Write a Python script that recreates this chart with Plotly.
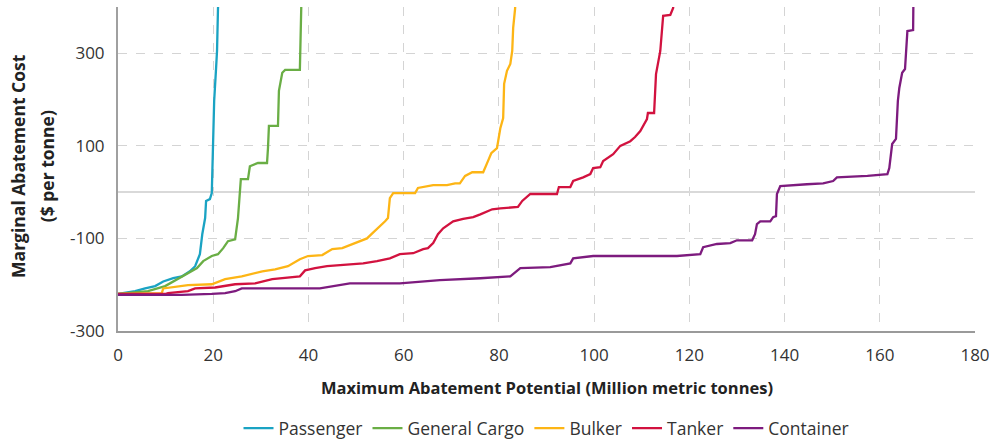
import plotly.graph_objects as go

# ---- data ----
passenger_x = [0, 3.6, 5.7, 7.8, 9.5, 11.6, 13.4, 15.1, 16.2, 17.2, 17.7, 18.3, 18.5, 19.3, 19.7, 20.0, 20.2, 20.6, 20.8, 21.0, 21.2]
passenger_y = [-220, -214, -208, -203, -193, -186, -182, -171, -160, -134, -91, -56, -19, -15, -2, 89, 197, 268, 305, 396, 450]

cargo_x = [0, 6.3, 9.9, 12.4, 14.5, 16.6, 17.9, 19.7, 21.0, 22.1, 23.1, 24.6, 25.2, 25.6, 25.8, 27.3, 27.7, 29.4, 31.3, 31.5, 31.7, 33.6, 33.8, 34.5, 35.1, 38.2, 38.4, 38.5, 38.6]
cargo_y = [-220, -214, -203, -188, -177, -164, -149, -138, -134, -121, -106, -102, -56, -4, 28, 28, 56, 63, 63, 95, 143, 143, 219, 258, 264, 264, 342, 396, 450]

bulker_x = [0, 9.2, 9.5, 14.7, 19.7, 22.5, 26.0, 30.3, 33.0, 35.7, 38.2, 39.9, 42.9, 45.0, 47.1, 49.4, 50.8, 52.3, 53.4, 54.6, 56.1, 56.7, 57.1, 57.8, 62.4, 63.0, 66.2, 69.1, 70.8, 71.8, 72.9, 74.4, 76.7, 77.7, 78.4, 79.6, 80.3, 80.9, 81.1, 81.7, 82.4, 82.8, 83.0, 83.4, 83.6]
bulker_y = [-220, -218, -208, -201, -199, -188, -182, -171, -167, -160, -145, -138, -136, -123, -121, -112, -106, -100, -89, -78, -63, -56, -13, -2, -2, 9, 15, 15, 19, 19, 35, 43, 43, 67, 84, 95, 138, 160, 234, 262, 277, 305, 355, 396, 450]

tanker_x = [0, 9.9, 10.5, 14.7, 16.2, 20.4, 24.6, 28.8, 32.4, 35.7, 38.2, 39.3, 41.4, 43.9, 48.7, 51.5, 54.4, 57.1, 59.2, 62.0, 64.1, 65.1, 66.2, 67.2, 68.3, 70.4, 72.5, 74.6, 76.1, 78.6, 80.3, 84.0, 84.9, 86.6, 92.2, 92.6, 95.0, 95.6, 97.7, 99.2, 99.8, 101.3, 101.9, 104.0, 105.5, 107.6, 108.6, 109.7, 111.1, 111.3, 112.6, 113.0, 113.9, 114.5, 116.0, 116.6, 116.9]
tanker_y = [-220, -220, -218, -214, -208, -206, -199, -197, -188, -184, -182, -169, -164, -160, -156, -154, -149, -143, -134, -132, -123, -121, -110, -91, -78, -63, -58, -54, -48, -37, -35, -32, -19, -4, -4, 11, 11, 24, 32, 39, 52, 54, 67, 82, 100, 110, 119, 132, 158, 171, 171, 255, 305, 381, 383, 398, 450]

container_x = [0, 13.4, 19.7, 22.5, 24.6, 26.0, 42.4, 45.2, 48.7, 59.2, 67.6, 76.1, 80.3, 82.4, 84.5, 90.8, 95.0, 95.6, 99.8, 117.4, 122.3, 122.9, 125.8, 128.6, 130.0, 133.2, 133.8, 134.2, 134.9, 137.0, 137.6, 138.2, 138.4, 139.1, 144.7, 148.1, 150.2, 151.0, 157.4, 160.7, 161.6, 162.0, 162.6, 163.4, 163.8, 164.1, 164.7, 165.3, 165.8, 167.0, 167.0, 167.1]
container_y = [-222, -222, -220, -218, -214, -208, -208, -203, -197, -197, -190, -186, -184, -182, -164, -162, -154, -143, -138, -138, -134, -119, -112, -110, -104, -104, -91, -69, -63, -63, -54, -52, -4, 13, 17, 19, 24, 32, 35, 37, 39, 52, 104, 115, 197, 225, 258, 266, 348, 350, 396, 450]

series_names = ["Passenger", "General Cargo", "Bulker", "Tanker", "Container"]
series_x = [passenger_x, cargo_x, bulker_x, tanker_x, container_x]
series_y = [passenger_y, cargo_y, bulker_y, tanker_y, container_y]
colors = ["#1AA3C3", "#6AAE45", "#FDB515", "#D2123F", "#7D1B7E"]

x_ticks = [0, 20, 40, 60, 80, 100, 120, 140, 160, 180]
y_ticks = [-300, -100, 100, 300, 400]
y_ticktext = ["-300", "-100", "100", "300", ""]

x_title = "<b>Maximum Abatement Potential (Million metric tonnes)</b>"
y_title_line1 = "<b>Marginal Abatement Cost</b>"
y_title_line2 = "<b>($ per tonne)</b>"

FONT = "Open Sans"

fig = go.Figure()
for name, xs, ys, c in zip(series_names, series_x, series_y, colors):
    fig.add_trace(go.Scatter(x=xs, y=ys, mode="lines", name=name,
                             line=dict(color=c, width=2.3)))

fig.update_layout(
    width=989, height=441,
    margin=dict(l=118, r=14, t=7, b=110, autoexpand=False),
    paper_bgcolor="white", plot_bgcolor="white",
    font=dict(family=FONT, color="#333333", size=16),
    showlegend=True,
    legend=dict(orientation="h", x=0.5, xanchor="center", y=-0.30, yanchor="middle",
                font=dict(size=17.5, color="#333333"), itemwidth=30,
                traceorder="normal"),
    annotations=[
        dict(text=x_title, xref="paper", yref="paper", x=0.5, y=-0.173,
             xanchor="center", yanchor="middle", showarrow=False,
             font=dict(size=16.5, color="#222222")),
        dict(text=y_title_line1, xref="paper", yref="paper", x=-0.1165, y=0.51,
             xanchor="center", yanchor="middle", showarrow=False, textangle=-90,
             font=dict(size=17.5, color="#222222")),
        dict(text=y_title_line2, xref="paper", yref="paper", x=-0.0835, y=0.51,
             xanchor="center", yanchor="middle", showarrow=False, textangle=-90,
             font=dict(size=17.5, color="#222222")),
    ],
)
fig.update_xaxes(
    range=[0, 180], tickvals=x_ticks, ticks="", ticklabelstandoff=8,
    ticklabeloverflow="allow", automargin=False,
    showgrid=True, gridcolor="#d4d4d4", griddash="dash", gridwidth=1,
    showline=True, linecolor="#9a9a9a", linewidth=2, zeroline=False,
    tickfont=dict(size=17, color="#333333"),
)
fig.update_yaxes(
    range=[-300, 400], tickvals=y_ticks, ticktext=y_ticktext, ticks="",
    ticklabelstandoff=8, automargin=False,
    showgrid=True, gridcolor="#d4d4d4", griddash="dash", gridwidth=1,
    showline=True, linecolor="#a0a0a0", linewidth=2,
    zeroline=True, zerolinecolor="#d9d9d9", zerolinewidth=1.5,
    tickfont=dict(size=17, color="#333333"),
)

# remove the default 8px body margin so the figure sits at the window's corner
fig.write_html("out.html", config={"displayModeBar": False},
               post_script="document.body.style.margin='0';document.body.style.overflow='hidden';")
